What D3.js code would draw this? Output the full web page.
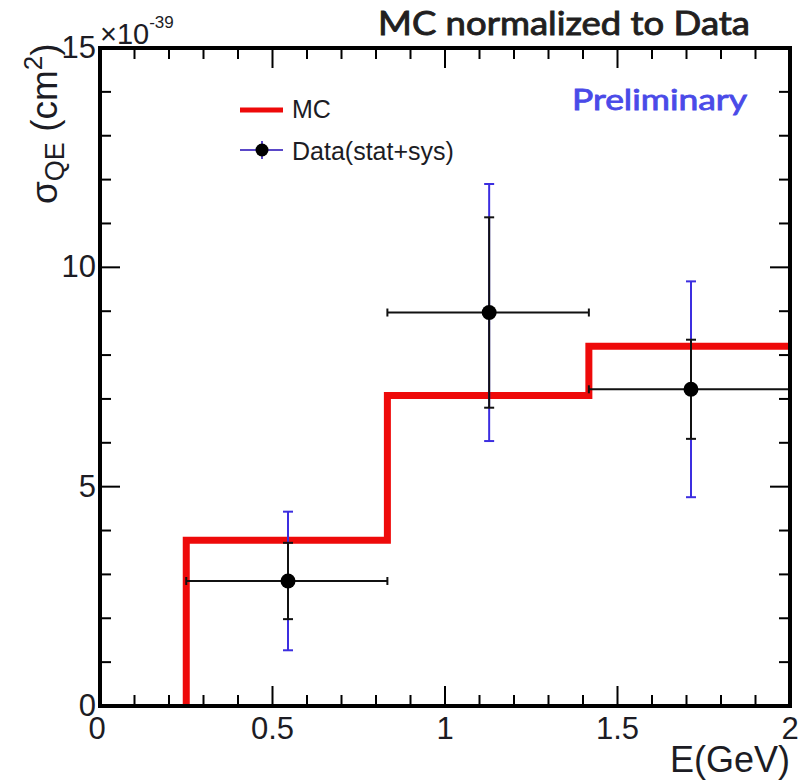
<!DOCTYPE html>
<html>
<head>
<meta charset="utf-8">
<script src="https://cdn.jsdelivr.net/npm/d3@7"></script>
<style>
  html, body { margin: 0; padding: 0; background: #fff; }
  svg { display: block; }
</style>
</head>
<body>
<script>
// QE cross section vs neutrino energy: MC histogram and measured points
const binEdges   = [0.25, 0.833, 1.417, 2.0];   // GeV
const mcValues   = [3.78, 7.08, 8.20];          // x 1e-39 cm^2
const dataEnergy = [0.545, 1.128, 1.713];       // GeV
const dataValues = [2.85, 8.97, 7.22];          // x 1e-39 cm^2
const statErr    = [0.87, 2.17, 1.13];
const totalErr   = [1.58, 2.93, 2.46];          // stat + sys
const xTicks     = [0, 0.5, 1, 1.5, 2];
const xTickLabels = ["0", "0.5", "1", "1.5", "2"];
const yTicks     = [0, 5, 10, 15];
const yTickLabels = ["0", "5", "10", "15"];

const W = 798, H = 781;
const plot = { left: 100, right: 790, top: 48, bottom: 706 };

const svg = d3.select("body").append("svg").attr("width", W).attr("height", H);

const x = d3.scaleLinear().domain([0, 2]).range([plot.left, plot.right]);
const y = d3.scaleLinear().domain([0, 15]).range([plot.bottom, plot.top]);

const sans = "'Liberation Sans', Arial, Helvetica, sans-serif";
const humanist = "Lato, 'Open Sans', sans-serif";
const textCol = "#1c1c24";

// ---- MC step histogram ----
const stepPts = [[binEdges[0], 0]];
mcValues.forEach((v, i) => { stepPts.push([binEdges[i], v]); stepPts.push([binEdges[i + 1], v]); });
svg.append("path")
  .attr("d", d3.line().x(d => x(d[0])).y(d => y(d[1]))(stepPts))
  .attr("fill", "none").attr("stroke", "#ee0a0a").attr("stroke-width", 7)
  .attr("stroke-linejoin", "miter");

// ---- data points with error bars ----
const pts = dataEnergy.map((e, i) => ({
  e, v: dataValues[i], s: statErr[i], t: totalErr[i], lo: binEdges[i], hi: binEdges[i + 1]
}));
const g = svg.append("g");
const blue = "#3c2ee0";
const capW = 5;

// total (stat+sys) error in blue
pts.forEach(p => {
  g.append("line").attr("x1", x(p.e)).attr("x2", x(p.e))
    .attr("y1", y(p.v - p.t)).attr("y2", y(p.v + p.t))
    .attr("stroke", blue).attr("stroke-width", 2);
  [p.v - p.t, p.v + p.t].forEach(val => {
    g.append("line").attr("x1", x(p.e) - capW).attr("x2", x(p.e) + capW)
      .attr("y1", y(val)).attr("y2", y(val)).attr("stroke", blue).attr("stroke-width", 2);
  });
});
// stat error and bin width in black
pts.forEach(p => {
  g.append("line").attr("x1", x(p.e)).attr("x2", x(p.e))
    .attr("y1", y(p.v - p.s)).attr("y2", y(p.v + p.s))
    .attr("stroke", "#111").attr("stroke-width", 2);
  [p.v - p.s, p.v + p.s].forEach(val => {
    g.append("line").attr("x1", x(p.e) - capW).attr("x2", x(p.e) + capW)
      .attr("y1", y(val)).attr("y2", y(val)).attr("stroke", "#111").attr("stroke-width", 2);
  });
  g.append("line").attr("x1", x(p.lo)).attr("x2", x(p.hi))
    .attr("y1", y(p.v)).attr("y2", y(p.v)).attr("stroke", "#111").attr("stroke-width", 2);
  [p.lo, p.hi].forEach(val => {
    g.append("line").attr("x1", x(val)).attr("x2", x(val))
      .attr("y1", y(p.v) - 4).attr("y2", y(p.v) + 4).attr("stroke", "#111").attr("stroke-width", 2);
  });
  g.append("circle").attr("cx", x(p.e)).attr("cy", y(p.v)).attr("r", 7.5).attr("fill", "#000");
});

// ---- frame and ticks (inward on all four sides) ----
const major = 20, minor = 11;
const axisStroke = "#000";
const xMinor = d3.range(0, 2.0001, 0.1);
const yMinor = d3.range(0, 15.0001, 1);
const tg = svg.append("g").attr("stroke", axisStroke).attr("stroke-width", 2);
xMinor.forEach(v => {
  const isMajor = Math.abs(v * 2 - Math.round(v * 2)) < 1e-6;
  const len = isMajor ? major : minor;
  tg.append("line").attr("x1", x(v)).attr("x2", x(v)).attr("y1", plot.bottom).attr("y2", plot.bottom - len);
  tg.append("line").attr("x1", x(v)).attr("x2", x(v)).attr("y1", plot.top).attr("y2", plot.top + len);
});
yMinor.forEach(v => {
  const isMajor = Math.abs(v % 5) < 1e-6;
  const len = isMajor ? major : minor;
  tg.append("line").attr("x1", plot.left).attr("x2", plot.left + len).attr("y1", y(v)).attr("y2", y(v));
  tg.append("line").attr("x1", plot.right).attr("x2", plot.right - len).attr("y1", y(v)).attr("y2", y(v));
});
svg.append("rect")
  .attr("x", plot.left).attr("y", plot.top)
  .attr("width", plot.right - plot.left).attr("height", plot.bottom - plot.top)
  .attr("fill", "none").attr("stroke", axisStroke).attr("stroke-width", 4);

// ---- tick labels ----
svg.append("g").selectAll("text").data(xTicks).join("text")
  .attr("x", (d, i) => x(d) - (i === 0 ? 3 : 0)).attr("y", 739)
  .attr("text-anchor", "middle")
  .attr("font-family", sans).attr("font-size", 31).attr("fill", textCol)
  .text((d, i) => xTickLabels[i]);
svg.append("g").selectAll("text").data(yTicks).join("text")
  .attr("x", 96).attr("y", d => y(d) + 10)
  .attr("text-anchor", "end")
  .attr("font-family", sans).attr("font-size", 31).attr("fill", textCol)
  .text((d, i) => yTickLabels[i]);

// exponent of the y axis
const expo = svg.append("text").attr("x", 100).attr("y", 44)
  .attr("font-family", sans).attr("font-size", 29).attr("fill", textCol);
expo.append("tspan").text("×10");
expo.append("tspan").attr("font-size", 17).attr("dy", -16).text("-39");

// ---- axis titles ----
svg.append("text").attr("x", 790).attr("y", 772)
  .attr("text-anchor", "end")
  .attr("font-family", sans).attr("font-size", 36).attr("fill", textCol)
  .text("E(GeV)");

const yt = svg.append("text")
  .attr("transform", "translate(57,204) rotate(-90)")
  .attr("font-family", sans).attr("font-size", 37).attr("fill", textCol);
yt.append("tspan").text("σ");
yt.append("tspan").attr("font-size", 27).attr("dy", 7).text("QE");
yt.append("tspan").attr("dy", -7).text(" (cm");
yt.append("tspan").attr("font-size", 26).attr("dy", -15).text("2");
yt.append("tspan").attr("dy", 15).text(")");

// ---- title and annotation ----
svg.append("text").attr("x", 378).attr("y", 35)
  .attr("font-family", humanist).attr("font-weight", 400)
  .attr("font-size", 32).attr("fill", "#221f1f")
  .attr("stroke", "#221f1f").attr("stroke-width", 0.9)
  .attr("textLength", 372).attr("lengthAdjust", "spacingAndGlyphs")
  .text("MC normalized to Data");

svg.append("text").attr("x", 572).attr("y", 110)
  .attr("font-family", humanist).attr("font-weight", 400)
  .attr("font-size", 28).attr("fill", "#4a4ae8")
  .attr("stroke", "#4a4ae8").attr("stroke-width", 0.8)
  .attr("textLength", 175).attr("lengthAdjust", "spacingAndGlyphs")
  .text("Preliminary");

// ---- legend ----
const lg = svg.append("g");
lg.append("line").attr("x1", 240).attr("x2", 283).attr("y1", 110).attr("y2", 110)
  .attr("stroke", "#ee0a0a").attr("stroke-width", 5);
lg.append("text").attr("x", 292).attr("y", 118)
  .attr("font-family", sans).attr("font-size", 25).attr("fill", textCol).text("MC");
lg.append("line").attr("x1", 240).attr("x2", 283).attr("y1", 150).attr("y2", 150)
  .attr("stroke", "#5a48c8").attr("stroke-width", 2);
lg.append("line").attr("x1", 262).attr("x2", 262).attr("y1", 141).attr("y2", 159)
  .attr("stroke", "#5a48c8").attr("stroke-width", 2);
lg.append("circle").attr("cx", 262).attr("cy", 150).attr("r", 6.5).attr("fill", "#000");
lg.append("text").attr("x", 292).attr("y", 160)
  .attr("font-family", sans).attr("font-size", 25).attr("fill", textCol).text("Data(stat+sys)");
</script>
</body>
</html>
